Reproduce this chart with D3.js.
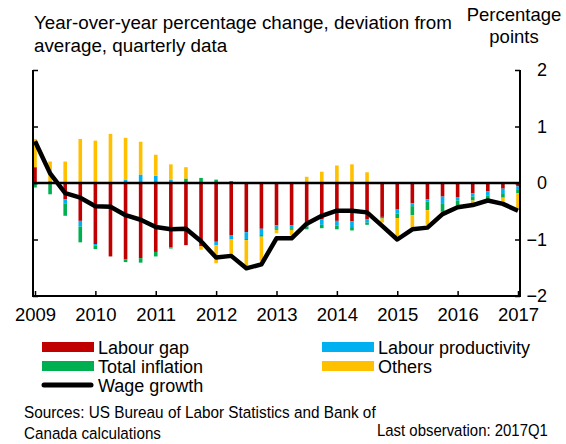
<!DOCTYPE html>
<html>
<head>
<meta charset="utf-8">
<script src="https://cdn.jsdelivr.net/npm/d3@7"></script>
<style>
  body { margin: 0; background: #fff; }
  svg { display: block; font-family: 'Liberation Sans', Arial, sans-serif; }
</style>
</head>
<body>
<div id="main"></div>
<script>
const w = 566, h = 444

// quarterly data 2009Q1 .. 2017Q1
const years = ['2009', '2010', '2011', '2012', '2013', '2014', '2015', '2016', '2017']
const labourGap = [0.28, 0.03, -0.29, -0.67, -1.08, -1.30, -1.35, -1.33, -1.22, -1.14, -1.10, -1.12,
  -1.04, -0.93, -0.87, -0.81, -0.75, -0.75, -0.75, -0.64, -0.67, -0.68, -0.64, -0.60,
  -0.47, -0.36, -0.29, -0.24, -0.25, -0.18, -0.15, -0.10, -0.06]
const productivity = [0, 0, -0.07, -0.10, -0.03, 0, 0.06, 0.15, 0.13, 0.06, 0, 0,
  -0.06, -0.07, -0.12, -0.11, -0.05, -0.05, -0.02, -0.10, -0.08, -0.10, -0.06, 0,
  -0.07, -0.05, -0.04, -0.13, -0.06, -0.06, -0.07, -0.08, -0.05]
const inflation = [-0.08, -0.20, -0.22, -0.28, -0.06, 0, -0.05, -0.08, -0.08, -0.02, 0.08, 0.09,
  0.06, 0.035, -0.02, -0.03, -0.03, -0.03, -0.05, -0.06, -0.07, -0.06, -0.04, -0.03,
  -0.08, -0.16, -0.15, -0.14, -0.09, -0.07, -0.07, -0.08, -0.07]
const others = [0.50, 0.35, 0.38, 0.78, 0.75, 0.87, 0.74, 0.58, 0.37, 0.27, 0.20, -0.06,
  -0.32, -0.30, -0.46, -0.43, -0.06, -0.10, 0.11, 0.20, 0.31, 0.33, 0.19, -0.07,
  -0.32, -0.22, -0.26, -0.02, 0, -0.05, 0, -0.08, -0.27]
const wage = [0.74, 0.17, -0.18, -0.26, -0.41, -0.42, -0.57, -0.65, -0.78, -0.82, -0.81, -1.03,
  -1.32, -1.29, -1.51, -1.44, -0.98, -0.98, -0.72, -0.58, -0.49, -0.49, -0.52, -0.76,
  -1.00, -0.82, -0.79, -0.55, -0.43, -0.39, -0.31, -0.37, -0.49]
const yTicks = [2, 1, 0, -1, -2]

const keys = ['gap', 'prod', 'infl', 'oth']
const colors = { gap: '#C00000', prod: '#00B0F0', infl: '#00B050', oth: '#FFC000' }
const rows = labourGap.map((v, i) => ({ i: i, gap: v, prod: productivity[i], infl: inflation[i], oth: others[i] }))

const pLeft = 33, pRight = 520, pTop = 70, pBottom = 296

const svg = d3.select('#main')
            .append('svg')
            .attr('width', w)
            .attr('height', h)

const x = d3.scaleLinear().domain([0, labourGap.length - 1]).range([35, 518])
const y = d3.scaleLinear().domain([-2, 2]).range([pBottom, pTop])

const series = d3.stack().keys(keys).offset(d3.stackOffsetDiverging)(rows)

svg.append('g')
    .selectAll('g')
    .data(series)
    .enter()
    .append('g')
    .attr('fill', d => colors[d.key])
    .selectAll('rect')
    .data(d => d)
    .enter()
    .append('rect')
    .attr('x', d => x(d.data.i) - 1.8)
    .attr('width', 3.6)
    .attr('y', d => y(Math.max(d[0], d[1])))
    .attr('height', d => Math.abs(y(d[0]) - y(d[1])))

// frame
const frame = svg.append('g').attr('stroke', '#000').attr('stroke-width', 2).attr('fill', 'none')
frame.append('path').attr('d', `M${pLeft},${pTop}V${pBottom}H${pRight}V${pTop}`)

// zero line
svg.append('line')
    .attr('x1', pLeft).attr('x2', pRight)
    .attr('y1', y(0)).attr('y2', y(0))
    .attr('stroke', '#000').attr('stroke-width', 2.6)

// left ticks
const leftAxis = svg.append('g')
    .attr('transform', `translate(${pLeft},0)`)
    .call(d3.axisRight(y).tickValues(yTicks).tickSize(5).tickFormat(''))
leftAxis.select('.domain').remove()

// right axis with labels
const rightAxis = svg.append('g')
    .attr('transform', `translate(${pRight},0)`)
    .call(d3.axisRight(y).tickValues(yTicks).tickSizeInner(-5).tickSizeOuter(0).tickFormat(d3.format('d')))
rightAxis.select('.domain').remove()
rightAxis.selectAll('text')
    .attr('x', 27)
    .attr('text-anchor', 'end')
    .style('font-size', '18px')
    .style('font-family', "'Liberation Sans', Arial, sans-serif")

// bottom axis
const xAxis = svg.append('g')
    .attr('transform', `translate(0,${pBottom})`)
    .call(d3.axisBottom(x)
        .tickValues(years.map((d, k) => k * 4))
        .tickSizeInner(-5).tickSizeOuter(0).tickPadding(12)
        .tickFormat((d, k) => years[k]))
xAxis.select('.domain').remove()
xAxis.selectAll('text')
    .style('font-size', '18.5px')
    .style('font-family', "'Liberation Sans', Arial, sans-serif")
svg.selectAll('.tick line').attr('stroke', '#000').attr('stroke-width', 1.5)

// wage growth line
const line = d3.line().x((d, i) => x(i)).y(d => y(d))
svg.append('path')
    .datum(wage)
    .attr('d', line)
    .attr('fill', 'none')
    .attr('stroke', '#000')
    .attr('stroke-width', 4.5)
    .attr('stroke-linejoin', 'round')

//titles
svg.append('text')
    .attr('x', 34).attr('y', 29)
    .text('Year-over-year percentage change, deviation from')
    .style('font-size', '18.8px')
svg.append('text')
    .attr('x', 34).attr('y', 52)
    .text('average, quarterly data')
    .style('font-size', '18.8px')
svg.append('text')
    .attr('x', 514).attr('y', 21)
    .attr('text-anchor', 'middle')
    .text('Percentage')
    .style('font-size', '18.5px')
svg.append('text')
    .attr('x', 514).attr('y', 43)
    .attr('text-anchor', 'middle')
    .text('points')
    .style('font-size', '18.5px')

// legend
const legendItems = [
    { label: 'Labour gap', color: colors.gap, lx: 42, ly: 347 },
    { label: 'Labour productivity', color: colors.prod, lx: 322, ly: 347 },
    { label: 'Total inflation', color: colors.infl, lx: 42, ly: 366 },
    { label: 'Others', color: colors.oth, lx: 322, ly: 366 }
]
const legend = svg.append('g').attr('id', 'legend')
legendItems.forEach(d => {
    legend.append('rect')
        .attr('x', d.lx).attr('y', d.ly - 5)
        .attr('width', 52).attr('height', 10)
        .attr('fill', d.color)
    legend.append('text')
        .attr('x', d.lx + 56).attr('y', d.ly + 6.5)
        .text(d.label)
        .style('font-size', '18px')
})
legend.append('line')
    .attr('x1', 44).attr('x2', 91)
    .attr('y1', 385).attr('y2', 385)
    .attr('stroke', '#000').attr('stroke-width', 5)
    .attr('stroke-linecap', 'round')
legend.append('text')
    .attr('x', 98).attr('y', 391.5)
    .text('Wage growth')
    .style('font-size', '18px')

// notes, squeezed horizontally to look like a narrow face
const notes = [
    { t: 'Sources: US Bureau of Labor Statistics and Bank of', nx: 24, ny: 418, nw: 352 },
    { t: 'Canada calculations', nx: 24, ny: 439, nw: 137 },
    { t: 'Last observation: 2017Q1', nx: 377, ny: 436, nw: 171 }
]
notes.forEach(d => {
    const g = svg.append('g')
    const t = g.append('text').text(d.t).style('font-size', '17px')
    const natural = t.node().getComputedTextLength()
    g.attr('transform', `translate(${d.nx},${d.ny}) scale(${d.nw / natural},1)`)
})
</script>
</body>
</html>
